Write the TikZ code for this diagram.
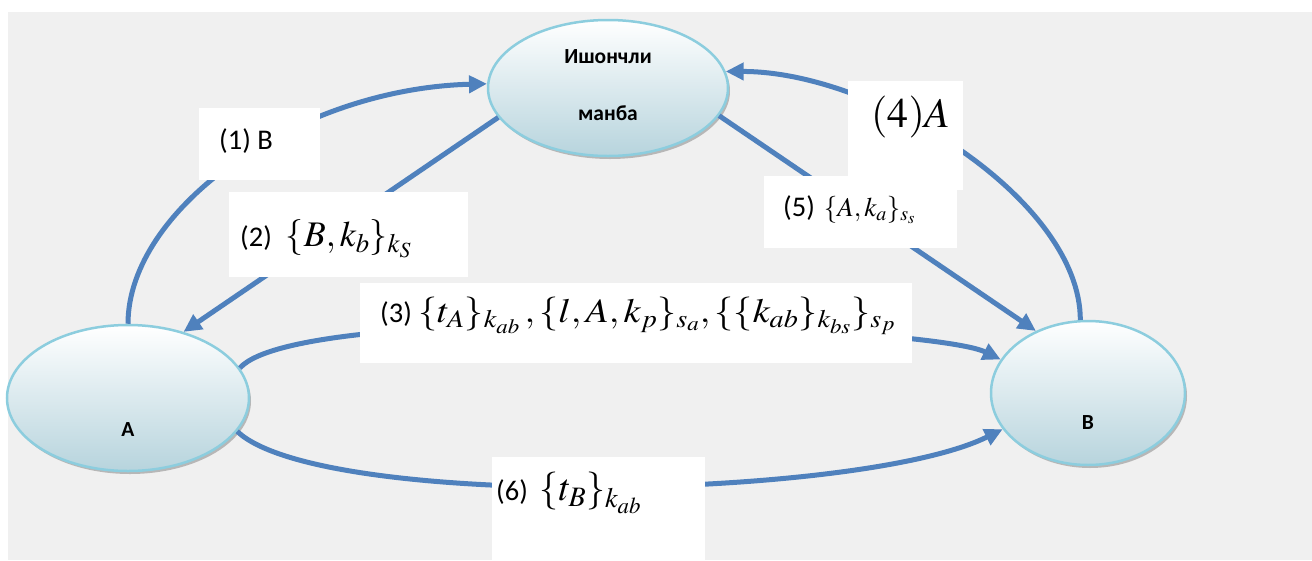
\documentclass[tikz,border=0pt]{standalone}
\usepackage{graphicx}
\usepackage{mathptmx}
\usepackage{fontspec}
\setmainfont{Carlito}
\renewcommand\defaultscriptratio{.74}
\renewcommand\defaultscriptscriptratio{.6}
\usetikzlibrary{arrows.meta,shapes.geometric,shadows}
\definecolor{bg}{RGB}{240,240,240}
\definecolor{arr}{RGB}{79,129,189}
\definecolor{ebord}{RGB}{140,205,222}
\definecolor{ebot}{RGB}{183,212,221}
\begin{document}
\begin{tikzpicture}[x=1pt,y=-1pt,
  ell/.style={ellipse, draw=ebord, line width=2.5pt, top color=white, bottom color=ebot,
    drop shadow={shadow xshift=2pt,shadow yshift=-3pt,fill=black!50,opacity=0.5}, inner sep=0pt},
  etext/.style={font=\fontsize{21.5}{24}\bfseries\selectfont, inner sep=0pt},
  conn/.style={arr, line width=5pt, -{Triangle[length=18pt,width=17pt]}},
  lbox/.style={fill=white, inner sep=0pt, draw=none},
  ltext/.style={font=\fontsize{28.5}{31}\selectfont, inner sep=0pt, anchor=west}]
\useasboundingbox (0,0) rectangle (1312,560);
\fill[bg] (8,12) rectangle (1312,560);
% ellipses
\node[ell, minimum width=240pt, minimum height=136pt] (T) at (608,88) {};
\node[ell, minimum width=242pt, minimum height=146pt] (A) at (128,398) {};
\node[ell, minimum width=194pt, minimum height=144pt] (B) at (1088,393) {};
\node[etext] (t1) at (608,57) {Ишончли};
\node[etext] (t2) at (608,113) {манба};
\node[etext] (ta) at (128,430) {А};
\node[etext] (tb) at (1088,423) {В};
% connectors
\draw[conn] (A.north) .. controls +(0,-115) and +(-190,5) .. (T.178);
\draw[conn] (T.195) -- (A.50);
\draw[conn] (B.96) .. controls +(0,-120) and +(150,0) .. (T.8);
\draw[conn] (T.-14) -- (B.130);
\draw[conn] (A.15) .. controls (300,300) and (930,325) .. (B.159);
\draw[conn] (A.-17) .. controls (320,510) and (860,500) .. (B.203);
% label boxes
\node[lbox, minimum width=121pt, minimum height=72pt] (b1) at (259.5,144) {};
\node[lbox, minimum width=239pt, minimum height=85pt] (b2) at (348.5,234.5) {};
\node[lbox, minimum width=552pt, minimum height=80pt] (b3) at (636,323) {};
\node[lbox, minimum width=115pt, minimum height=109pt] (b4) at (905.5,135.5) {};
\node[lbox, minimum width=193pt, minimum height=72pt] (b5) at (860.5,212) {};
\node[lbox, minimum width=213pt, minimum height=103pt] (b6) at (598.5,508.5) {};
% labels
\node[ltext] (l1) at (219,141) {(1) B};
\node[ltext] (l2) at (240,239) {(2)\hspace{14pt}\fontsize{36}{40}\selectfont$\{B,k_b\}_{k_S}$};
\node[ltext] (l3) at (380,316) {(3) \scalebox{1.12}[1]{\fontsize{34}{38}\selectfont$\{t_A\}_{k_{ab}}\,,\{l,A,k_p\}_{s_a},\{\{k_{ab}\}_{k_{bs}}\}_{s_p}$}};
\node[ltext] (l4) at (871,117) {\fontsize{42}{46}\selectfont$(4)A$};
\node[ltext] (l5) at (783,210) {(5)\hspace{9pt}\fontsize{27}{29}\selectfont$\{A,k_a\}_{s_s}$};
\node[ltext] (l6) at (496,493) {(6)\hspace{12pt}\fontsize{38}{42}\selectfont$\{t_B\}_{k_{ab}}$};
\end{tikzpicture}
\end{document}
